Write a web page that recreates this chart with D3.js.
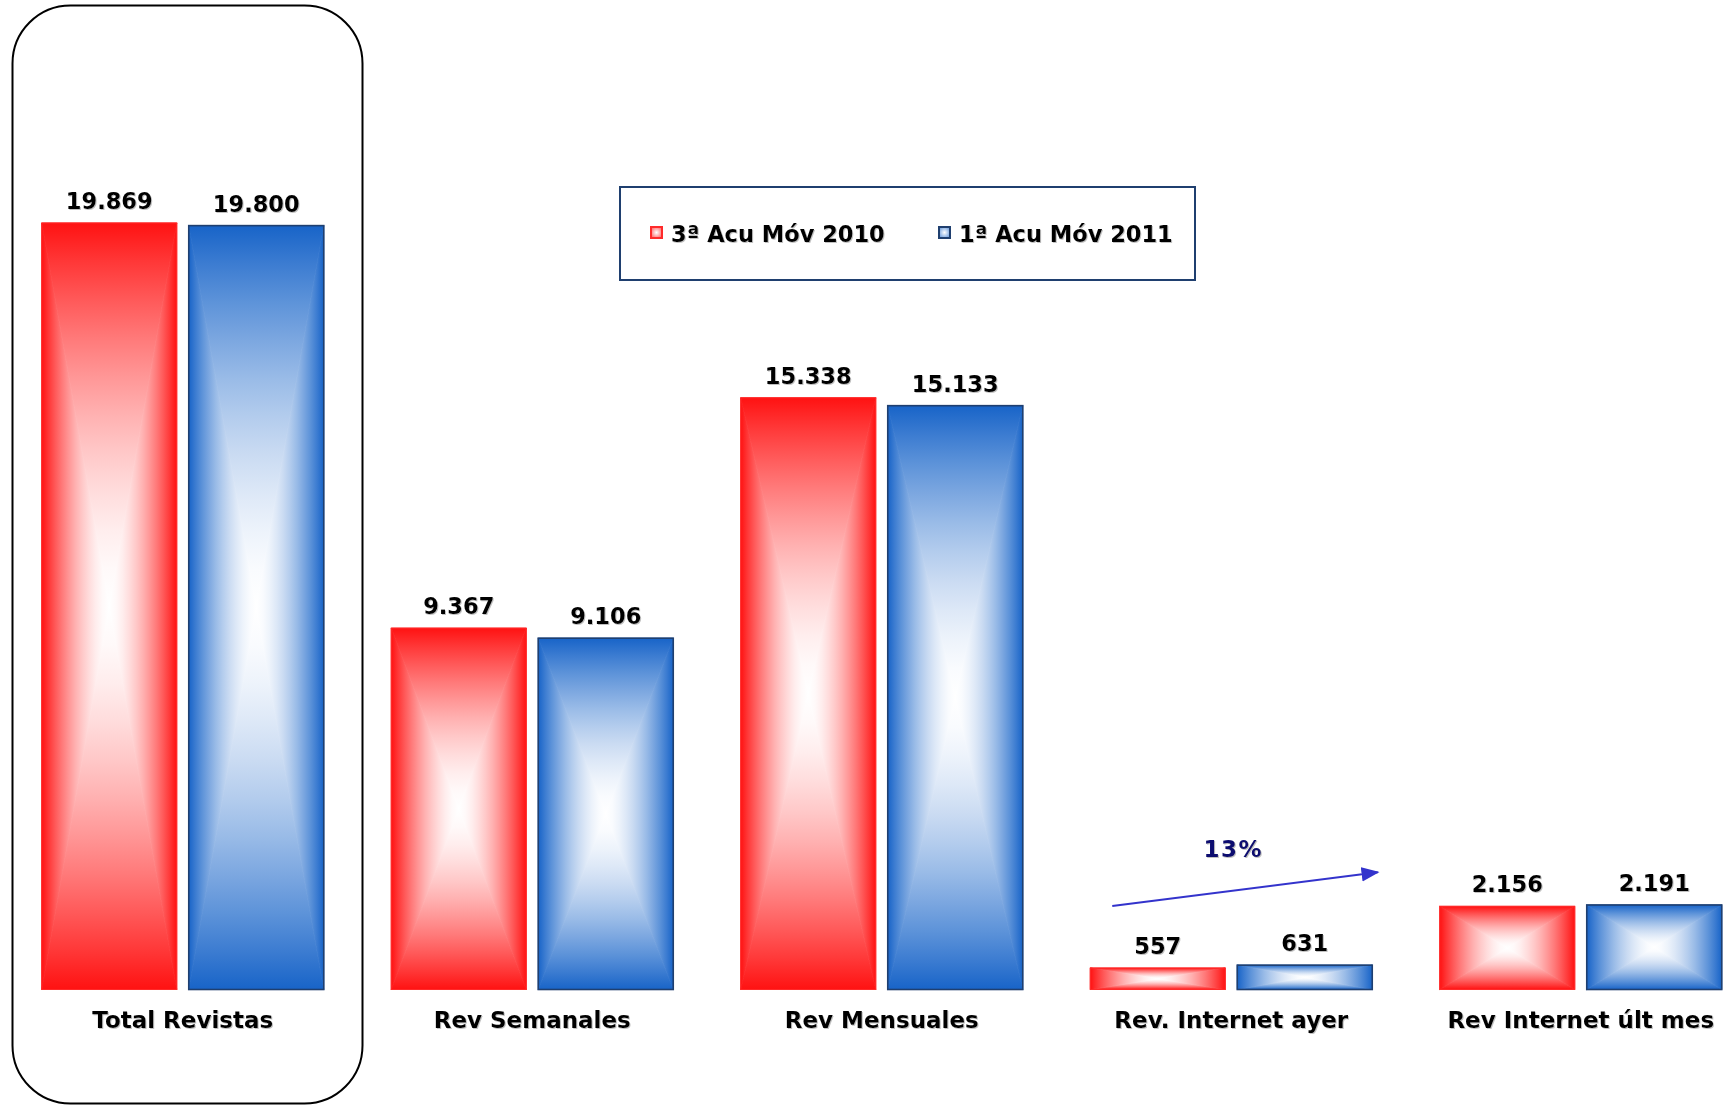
<!DOCTYPE html>
<html>
<head>
<meta charset="utf-8">
<script src="https://cdn.jsdelivr.net/npm/d3@7"></script>
<style>
  html, body { margin: 0; padding: 0; background: #fff; }
  svg { display: block; }
  text { font-family: "DejaVu Sans", Verdana, sans-serif; font-weight: bold; }
</style>
</head>
<body>
<svg id="chart" width="1724" height="1106"></svg>
<script>
// ---- data ----
const categories = ["Total Revistas", "Rev Semanales", "Rev Mensuales", "Rev. Internet ayer", "Rev Internet últ mes"];
const seriesNames = ["3ª Acu Móv 2010", "1ª Acu Móv 2011"];
const values2010 = [19869, 9367, 15338, 557, 2156];
const values2011 = [19800, 9106, 15133, 631, 2191];
const valueLabels2010 = ["19.869", "9.367", "15.338", "557", "2.156"];
const valueLabels2011 = ["19.800", "9.106", "15.133", "631", "2.191"];
const seriesColors = ["#ff1212", "#1864c8"];
const seriesBorders = ["#ff2a2a", "#1f3f6f"];

const W = 1724, H = 1106;
const svg = d3.select("#chart");
const defs = svg.append("defs");

// text shadow
const f = defs.append("filter").attr("id", "tshadow").attr("x", "-10%").attr("y", "-30%").attr("width", "130%").attr("height", "170%");
f.append("feDropShadow").attr("dx", 1).attr("dy", 1).attr("stdDeviation", 0.7).attr("flood-color", "#777").attr("flood-opacity", 0.45);

// gradients: 4 directions per series (edge colour -> white centre), eased
const dirs = {
  top:    {x1: 0, y1: 0, x2: 0, y2: 1},
  bottom: {x1: 0, y1: 1, x2: 0, y2: 0},
  left:   {x1: 0, y1: 0, x2: 1, y2: 0},
  right:  {x1: 1, y1: 0, x2: 0, y2: 0}
};
const stopTs = d3.range(0, 1.0001, 0.1);
seriesColors.forEach((c, si) => {
  const mix = d3.interpolateRgb(c, "#ffffff");
  Object.entries(dirs).forEach(([k, d]) => {
    const g = defs.append("linearGradient").attr("id", `g${si}${k}`)
      .attr("x1", d.x1).attr("y1", d.y1).attr("x2", d.x2).attr("y2", d.y2);
    stopTs.forEach(t => {
      g.append("stop").attr("offset", t).attr("stop-color", mix(1 - Math.pow(1 - t, 1.6)));
    });
  });
  const rg = defs.append("radialGradient").attr("id", `sw${si}`);
  rg.append("stop").attr("offset", 0).attr("stop-color", "#ffffff");
  rg.append("stop").attr("offset", 1).attr("stop-color", mix(0.45));
});

// scales
const baseY = 989.5;
const y = d3.scaleLinear().domain([0, 20000]).range([baseY, baseY - 20000 * 0.03858]);
const x = d3.scaleBand().domain(categories).range([8, 8 + 5 * 349.5]).padding(0);
const xs = d3.scaleBand().domain(seriesNames)
  .range([x.bandwidth() / 2 - 141, x.bandwidth() / 2 + 141]).paddingInner(12 / 147).paddingOuter(0);

// rounded highlight box around first category
svg.append("rect")
  .attr("x", 12.5).attr("y", 5.5).attr("width", 350).attr("height", 1098)
  .attr("rx", 58).attr("ry", 58)
  .attr("fill", "none").attr("stroke", "#000").attr("stroke-width", 2);

// data rows
const rows = categories.map((c, i) => ({
  cat: c,
  vals: [
    {s: 0, name: seriesNames[0], v: values2010[i], label: valueLabels2010[i]},
    {s: 1, name: seriesNames[1], v: values2011[i], label: valueLabels2011[i]}
  ]
}));

const groups = svg.selectAll("g.cat").data(rows).join("g")
  .attr("class", "cat")
  .attr("transform", d => `translate(${x(d.cat)},0)`);

const bars = groups.selectAll("g.bar").data(d => d.vals).join("g").attr("class", "bar");

bars.each(function(d) {
  const g = d3.select(this);
  const x0 = xs(d.name), x1 = x0 + xs.bandwidth();
  const y0 = y(d.v), y1 = y(0);
  const cx = (x0 + x1) / 2, cy = (y0 + y1) / 2;
  const tris = [
    ["top",    [[x0, y0], [x1, y0], [cx, cy]]],
    ["bottom", [[x0, y1], [x1, y1], [cx, cy]]],
    ["left",   [[x0, y0], [x0, y1], [cx, cy]]],
    ["right",  [[x1, y0], [x1, y1], [cx, cy]]]
  ];
  tris.forEach(([k, pts]) => {
    g.append("path")
      .attr("d", d3.line()(pts) + "Z")
      .attr("fill", `url(#g${d.s}${k})`)
      .attr("stroke", `url(#g${d.s}${k})`)
      .attr("stroke-width", 0.8)
      .attr("stroke-linejoin", "round");
  });
  g.append("rect")
    .attr("x", x0).attr("y", y0).attr("width", x1 - x0).attr("height", y1 - y0)
    .attr("fill", "none")
    .attr("stroke", seriesBorders[d.s])
    .attr("stroke-width", d.s === 1 ? 1.6 : 1);
  g.append("text")
    .attr("x", cx).attr("y", y0 - 14)
    .attr("text-anchor", "middle")
    .attr("font-size", 22.5)
    .attr("fill", "#000")
    .attr("filter", "url(#tshadow)")
    .text(d.label);
});

// category labels
groups.append("text")
  .attr("x", x.bandwidth() / 2)
  .attr("y", baseY + 38)
  .attr("text-anchor", "middle")
  .attr("font-size", 23)
  .attr("fill", "#000")
  .attr("filter", "url(#tshadow)")
  .text(d => d.cat);

// growth arrow annotation between internet categories
const cA = x(categories[3]) + x.bandwidth() / 2;
const cB = x(categories[4]) + x.bandwidth() / 2;
defs.append("marker").attr("id", "arrowhead")
  .attr("viewBox", "0 0 10 8").attr("refX", 9).attr("refY", 4)
  .attr("markerWidth", 9).attr("markerHeight", 8)
  .attr("markerUnits", "strokeWidth")
  .attr("orient", "auto")
  .append("path").attr("d", "M0,0L10,4L0,8Z").attr("fill", "#3333cc");
svg.append("line")
  .attr("x1", cA - 119).attr("y1", y(values2010[3]) - 62)
  .attr("x2", cB - 203).attr("y2", y(values2010[4]) - 34)
  .attr("stroke", "#3333cc").attr("stroke-width", 2)
  .attr("marker-end", "url(#arrowhead)");
const growth = Math.round((values2011[3] - values2010[3]) / values2010[3] * 100);
svg.append("text")
  .attr("x", cA + 2).attr("y", 857)
  .attr("text-anchor", "middle")
  .attr("font-size", 23)
  .attr("letter-spacing", 1.5)
  .attr("fill", "#111170")
  .attr("filter", "url(#tshadow)")
  .text(growth + "%");

// legend
const lg = svg.append("g");
lg.append("rect").attr("x", 620).attr("y", 187).attr("width", 575).attr("height", 93)
  .attr("fill", "#fff").attr("stroke", "#1f3f6f").attr("stroke-width", 2);
const legX = [650, 938];
seriesNames.forEach((n, i) => {
  lg.append("rect").attr("x", legX[i] + 1).attr("y", 227).attr("width", 11).attr("height", 11)
    .attr("fill", `url(#sw${i})`).attr("stroke", seriesBorders[i]).attr("stroke-width", 2);
  lg.append("text").attr("x", legX[i] + 21).attr("y", 241.5)
    .attr("font-size", 22.5).attr("fill", "#000").attr("filter", "url(#tshadow)")
    .text(n);
});
</script>
</body>
</html>
